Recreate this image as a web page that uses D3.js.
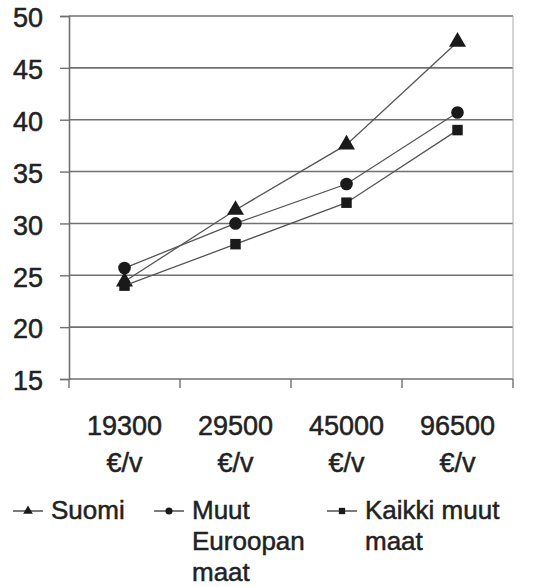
<!DOCTYPE html>
<html>
<head>
<meta charset="utf-8">
<script src="https://cdn.jsdelivr.net/npm/d3@7/dist/d3.min.js"></script>
<style>
body { margin: 0; background: #fff; }
text { font-family: "Liberation Sans", Arial, sans-serif; fill: #222; stroke: #222; stroke-width: 0.5px; }
</style>
</head>
<body>
<div id="chart"></div>
<script>

// data
var categories = ["19300", "29500", "45000", "96500"];
var unitLabel = "€/v";
var suomi = [24.4, 31.3, 37.6, 47.5];
var muutEuroopan = [25.7, 30.0, 33.8, 40.7];
var kaikkiMuut = [24.0, 28.0, 32.0, 39.0];
var yTicks = [15, 20, 25, 30, 35, 40, 45, 50];

var series = [
  { name: ["Suomi"], values: suomi, symbol: d3.symbolTriangle, legendX: 13 },
  { name: ["Muut", "Euroopan", "maat"], values: muutEuroopan, symbol: d3.symbolCircle, legendX: 154 },
  { name: ["Kaikki muut", "maat"], values: kaikkiMuut, symbol: d3.symbolSquare, legendX: 327 }
];

var width = 543, height = 587;
var plotLeft = 69, plotRight = 513, plotTop = 16, plotBottom = 379;

var svg = d3.select("#chart").append("svg")
    .attr("width", width)
    .attr("height", height);

var x = d3.scaleBand().domain(categories).range([plotLeft, plotRight]);
var y = d3.scaleLinear().domain([15, 50]).range([plotBottom, plotTop]);

// gridlines
svg.append("g").selectAll("line")
    .data(yTicks.slice(1))
    .enter().append("line")
    .attr("x1", plotLeft).attr("x2", plotRight)
    .attr("y1", function(d) { return y(d); })
    .attr("y2", function(d) { return y(d); })
    .attr("stroke", "#707070")
    .attr("stroke-width", 1.6);

// right border
svg.append("line")
    .attr("x1", plotRight).attr("x2", plotRight)
    .attr("y1", plotTop).attr("y2", plotBottom)
    .attr("stroke", "#aaa").attr("stroke-width", 1);

// y axis
var yAxis = d3.axisLeft(y).tickValues(yTicks).tickSize(9).tickPadding(17);
var gy = svg.append("g").attr("transform", "translate(" + plotLeft + ",0)").call(yAxis);
gy.select(".domain").attr("stroke", "#707070").attr("stroke-width", 1.6);
gy.selectAll(".tick line").attr("stroke", "#707070").attr("stroke-width", 1.4);
gy.selectAll(".tick text")
    .attr("font-size", 27)
    .attr("dy", "0.4em")
    .attr("fill", "#222")
    .attr("font-family", "Liberation Sans, Arial, sans-serif");

// x axis: baseline + boundary ticks
svg.append("line")
    .attr("x1", plotLeft).attr("x2", plotRight)
    .attr("y1", plotBottom).attr("y2", plotBottom)
    .attr("stroke", "#707070").attr("stroke-width", 1.6);

var boundaries = categories.map(function(c) { return x(c); }).concat([plotRight]);
svg.append("g").selectAll("line")
    .data(boundaries)
    .enter().append("line")
    .attr("x1", function(d) { return d; })
    .attr("x2", function(d) { return d; })
    .attr("y1", plotBottom).attr("y2", plotBottom + 9)
    .attr("stroke", "#707070").attr("stroke-width", 1.4);

var xl = svg.append("g").selectAll("g")
    .data(categories)
    .enter().append("g")
    .attr("transform", function(d) { return "translate(" + (x(d) + x.bandwidth() / 2) + ",0)"; });
xl.append("text")
    .attr("y", 435).attr("text-anchor", "middle")
    .attr("font-size", 27)
    .text(function(d) { return d; });
xl.append("text")
    .attr("y", 472).attr("text-anchor", "middle")
    .attr("font-size", 27)
    .text(unitLabel);

// lines and markers
var line = d3.line()
    .x(function(d, i) { return x(categories[i]) + x.bandwidth() / 2; })
    .y(function(d) { return y(d); });

series.forEach(function(s) {
  svg.append("path")
      .datum(s.values)
      .attr("d", line)
      .attr("fill", "none")
      .attr("stroke", "#555")
      .attr("stroke-width", 1.3);

  svg.append("g").selectAll("path")
      .data(s.values)
      .enter().append("path")
      .attr("d", d3.symbol().type(s.symbol).size(s.symbol === d3.symbolSquare ? 110 : 125))
      .attr("transform", function(d, i) {
        return "translate(" + (x(categories[i]) + x.bandwidth() / 2) + "," + y(d) + ")";
      })
      .attr("fill", "#1a1a1a");
});

// legend
var legend = svg.append("g").selectAll("g")
    .data(series)
    .enter().append("g")
    .attr("transform", function(d) { return "translate(" + d.legendX + ",511)"; });

legend.append("line")
    .attr("x1", 0).attr("x2", 30)
    .attr("stroke", "#333").attr("stroke-width", 1.3);
legend.append("path")
    .attr("d", function(d) { return d3.symbol().type(d.symbol).size(40)(); })
    .attr("transform", "translate(15,0)")
    .attr("fill", "#1a1a1a");

legend.append("text")
    .attr("x", 38)
    .attr("y", 8)
    .attr("font-size", 26)
    .selectAll("tspan")
    .data(function(d) { return d.name; })
    .enter().append("tspan")
    .attr("x", 38)
    .attr("dy", function(d, i) { return i === 0 ? 0 : 31; })
    .text(function(d) { return d; });

</script>
</body>
</html>
